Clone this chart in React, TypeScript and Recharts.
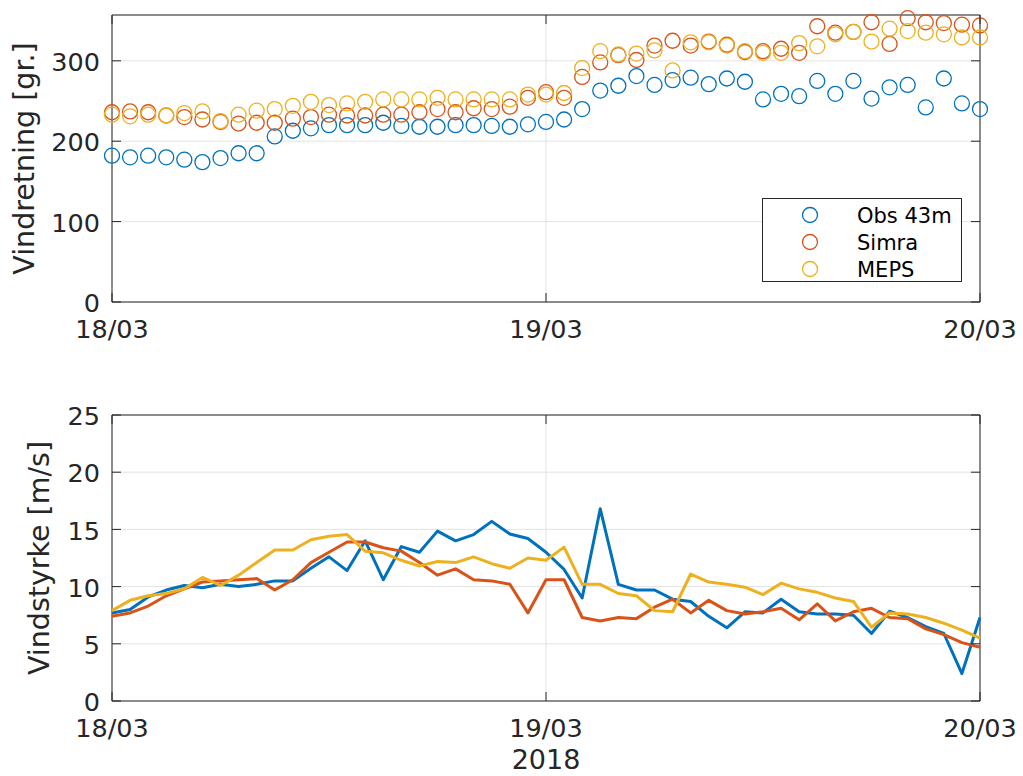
import React from 'react';
import {
  ScatterChart,
  Scatter,
  LineChart,
  Line,
  XAxis,
  YAxis,
  CartesianGrid,
  ReferenceArea,
  Legend,
} from 'recharts';

// hours after 18/03 00:00
const hours = [
  0, 1, 2, 3, 4, 5, 6, 7, 8, 9, 10, 11, 12, 13, 14, 15, 16, 17, 18, 19, 20, 21, 22, 23, 24,
  25, 26, 27, 28, 29, 30, 31, 32, 33, 34, 35, 36, 37, 38, 39, 40, 41, 42, 43, 44, 45, 46, 47, 48,
];
const dayTicks = [0, 24, 48];
const dayLabels = ['18/03', '19/03', '20/03'];
const yearLabel = '2018';

const seriesNames = ['Obs 43m', 'Simra', 'MEPS'];
const seriesColors = ['#0072BD', '#D95319', '#EDB120'];

// wind direction [gr.]
const dirTicks = [0, 100, 200, 300];
const obsDir = [
  182, 180, 182, 180, 177, 174, 179, 185, 185, 206, 213, 216, 220, 220, 220, 223, 219, 218, 218, 220,
  220, 219, 218, 221, 224, 227, 240, 263, 269, 281, 270, 276, 279, 271, 278, 274, 252, 259, 256, 275,
  259, 275, 253, 267, 270, 242, 278, 247, 240,
];
const simraDir = [
  236, 237, 236, 232, 230, 227, 224, 222, 223, 223, 228, 230, 233, 232, 232, 233, 233, 236, 240, 236,
  241, 240, 243, 254, 261, 254, 280, 298, 307, 301, 319, 325, 319, 324, 320, 311, 312, 315, 310, 343,
  335, 336, 348, 321, 353, 348, 347, 345, 344,
];
const mepsDir = [
  233, 231, 233, 232, 235, 237, 225, 233, 238, 240, 244, 249, 245, 247, 249, 252, 252, 252, 254, 252,
  252, 252, 252, 258, 258, 260, 291, 312, 308, 309, 313, 288, 323, 323, 319, 312, 310, 310, 322, 318,
  333, 336, 324, 340, 337, 335, 333, 329, 329,
];

// wind speed [m/s]
const speedTicks = [0, 5, 10, 15, 20, 25];
const obsSpeed = [
  7.7, 8.0, 9.1, 9.7, 10.1, 9.9, 10.2, 10.0, 10.2, 10.5, 10.5, 11.6, 12.6, 11.4, 14.0, 10.6, 13.5,
  13.0, 14.85, 14.0, 14.55, 15.7, 14.6, 14.2, 13.0, 11.5, 9.0, 16.8, 10.2, 9.7, 9.7, 8.9, 8.7, 7.4,
  6.4, 7.8, 7.7, 8.9, 7.8, 7.6, 7.6, 7.5, 5.9, 7.85, 7.3, 6.5, 5.9, 2.4, 7.3,
];
const simraSpeed = [
  7.4, 7.7, 8.3, 9.2, 9.8, 10.4, 10.5, 10.6, 10.7, 9.7, 10.6, 12.1, 13.0, 13.9, 13.9, 13.4, 13.1,
  12.1, 11.0, 11.55, 10.6, 10.5, 10.2, 7.7, 10.6, 10.6, 7.3, 7.0, 7.3, 7.2, 8.2, 8.9, 7.7, 8.8, 7.9,
  7.6, 7.8, 8.1, 7.1, 8.5, 7.0, 7.8, 8.1, 7.3, 7.2, 6.3, 5.8, 5.1, 4.7,
];
const mepsSpeed = [
  7.9, 8.8, 9.2, 9.4, 9.8, 10.8, 10.1, 11.0, 12.1, 13.2, 13.2, 14.1, 14.4, 14.55, 13.1, 12.95, 12.3,
  11.8, 12.2, 12.1, 12.6, 12.0, 11.6, 12.5, 12.3, 13.45, 10.2, 10.2, 9.4, 9.2, 7.9, 7.8, 11.1, 10.4,
  10.2, 9.95, 9.3, 10.3, 9.8, 9.5, 9.0, 8.7, 6.45, 7.7, 7.6, 7.3, 6.8, 6.2, 5.5,
];

const INK = '#262626';
const GRID = '#e3e3e3';
const FONT = '"DejaVu Sans", sans-serif';
const PLOT_RIGHT = 980;

const toPoints = (vals: number[]) => hours.map((h, i) => ({ h, v: vals[i] }));
const dirSeries = [obsDir, simraDir, mepsDir].map(toPoints);
const speedRows = hours.map((h, i) => ({
  h,
  obs: obsSpeed[i],
  simra: simraSpeed[i],
  meps: mepsSpeed[i],
}));
const speedKeys = ['obs', 'simra', 'meps'];

const makeXTick = (plotTop: number) => (props: any) => {
  const { x, y, payload } = props;
  const label = dayLabels[dayTicks.indexOf(payload.value)];
  return (
    <g>
      <line x1={x} x2={x} y1={y} y2={y - 9} stroke={INK} />
      <line x1={x} x2={x} y1={plotTop} y2={plotTop + 9} stroke={INK} />
      <text x={x} y={y + 36} textAnchor="middle" fill={INK} fontSize={25.5} fontFamily={FONT}>
        {label}
      </text>
    </g>
  );
};

const YTick = (props: any) => {
  const { x, y, payload } = props;
  return (
    <g>
      <line x1={x} x2={x + 9} y1={y} y2={y} stroke={INK} />
      <line x1={PLOT_RIGHT - 9} x2={PLOT_RIGHT} y1={y} y2={y} stroke={INK} />
      <text x={x - 12} y={y} dy="0.4em" textAnchor="end" fill={INK} fontSize={25.5} fontFamily={FONT}>
        {payload.value}
      </text>
    </g>
  );
};

const YLabel = (props: any) => {
  const { viewBox, text, baseX, fallbackY } = props;
  const cy = viewBox && viewBox.height ? viewBox.y + viewBox.height / 2 : fallbackY;
  return (
    <text
      x={baseX}
      y={cy}
      transform={`rotate(-90, ${baseX}, ${cy})`}
      textAnchor="middle"
      fill={INK}
      fontSize={28.5}
      fontFamily={FONT}
    >
      {text}
    </text>
  );
};

const YearLabel = (props: any) => {
  const { viewBox } = props;
  const cx = viewBox ? viewBox.x + viewBox.width / 2 : 546;
  const by = viewBox ? viewBox.y + 68 : 378;
  return (
    <text x={cx} y={by} textAnchor="middle" fill={INK} fontSize={27} fontFamily={FONT}>
      {yearLabel}
    </text>
  );
};

const DirLegend = () => (
  <div
    style={{
      width: 200,
      height: 84,
      border: `1px solid ${INK}`,
      background: '#fff',
      boxSizing: 'border-box',
    }}
  >
    <svg width={198} height={82} style={{ display: 'block' }}>
      {seriesNames.map((name, i) => (
        <g key={name}>
          <circle cx={47} cy={16 + 27 * i} r={7.5} fill="none" stroke={seriesColors[i]} strokeWidth={1.3} />
          <text x={94} y={16 + 27 * i} dy="0.36em" fill="#000" fontSize={21} fontFamily={FONT}>
            {name}
          </text>
        </g>
      ))}
    </svg>
  </div>
);

const ringShape = (color: string) => (p: any) => (
  <circle cx={p.cx} cy={p.cy} r={7.5} fill="none" stroke={color} strokeWidth={1.3} />
);

const App = () => {
  return (
    <div
      style={{
        position: 'absolute',
        left: 0,
        top: 0,
        width: 1023,
        height: 776,
        background: '#fff',
        fontFamily: FONT,
      }}
    >
      <div style={{ position: 'absolute', left: 0, top: 0 }}>
        <ScatterChart width={1023} height={360} margin={{ top: 15, right: 43, bottom: 18, left: 0 }}>
          <CartesianGrid stroke={GRID} />
          <XAxis
            type="number"
            dataKey="h"
            domain={[0, 48]}
            ticks={dayTicks}
            height={40}
            axisLine={false}
            tickLine={false}
            tickSize={0}
            tickMargin={0}
            tick={makeXTick(15)}
          />
          <YAxis
            type="number"
            dataKey="v"
            domain={[0, 357]}
            ticks={dirTicks}
            width={112}
            axisLine={false}
            tickLine={false}
            tickSize={0}
            tickMargin={0}
            tick={YTick}
            label={<YLabel text="Vindretning [gr.]" baseX={34} fallbackY={158} />}
          />
          {dirSeries.map((pts, i) => (
            <Scatter
              key={seriesNames[i]}
              name={seriesNames[i]}
              data={pts}
              shape={ringShape(seriesColors[i])}
              isAnimationActive={false}
            />
          ))}
          <ReferenceArea x1={0} x2={48} y1={0} y2={357} fill="none" stroke={INK} strokeWidth={1} />
          <Legend
            layout="vertical"
            align="center"
            verticalAlign="middle"
            content={<DirLegend />}
            wrapperStyle={{ left: 762, top: 198, width: 200, height: 84 }}
          />
        </ScatterChart>
      </div>
      <div style={{ position: 'absolute', left: 0, top: 391 }}>
        <LineChart
          width={1023}
          height={385}
          data={speedRows}
          margin={{ top: 24, right: 43, bottom: 0, left: 0 }}
        >
          <CartesianGrid stroke={GRID} />
          <XAxis
            type="number"
            dataKey="h"
            domain={[0, 48]}
            ticks={dayTicks}
            height={75}
            axisLine={false}
            tickLine={false}
            tickSize={0}
            tickMargin={0}
            tick={makeXTick(24)}
            label={<YearLabel />}
          />
          <YAxis
            type="number"
            domain={[0, 25]}
            ticks={speedTicks}
            width={112}
            axisLine={false}
            tickLine={false}
            tickSize={0}
            tickMargin={0}
            tick={YTick}
            label={<YLabel text="Vindstyrke [m/s]" baseX={49} fallbackY={167} />}
          />
          {speedKeys.map((k, i) => (
            <Line
              key={k}
              type="linear"
              dataKey={k}
              name={seriesNames[i]}
              stroke={seriesColors[i]}
              strokeWidth={3}
              strokeLinejoin="round"
              dot={false}
              isAnimationActive={false}
            />
          ))}
          <ReferenceArea x1={0} x2={48} y1={0} y2={25} fill="none" stroke={INK} strokeWidth={1} />
        </LineChart>
      </div>
    </div>
  );
};

export default App;
